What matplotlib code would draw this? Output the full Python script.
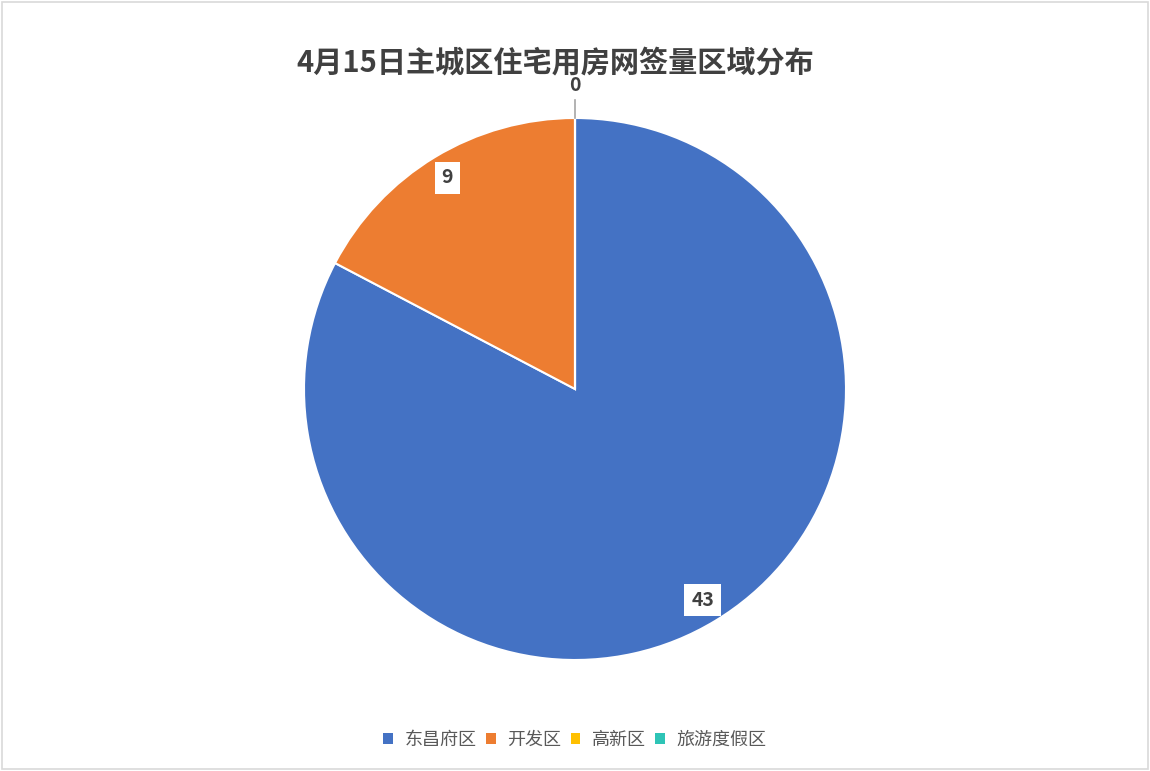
import matplotlib
matplotlib.use('Agg')
import matplotlib.pyplot as plt
from matplotlib.patches import Rectangle
import numpy as np

plt.rcParams['font.family'] = ['Noto Sans CJK SC', 'DejaVu Sans']

# data
areas = ['东昌府区', '开发区', '高新区', '旅游度假区']
counts = [43, 9, 0, 0]
colors = ['#4472C4', '#ED7D31', '#FFC000', '#2EC4B6']
title = '4月15日主城区住宅用房网签量区域分布'

fig = plt.figure(figsize=(11.5, 7.71), dpi=100)
fig.patches.append(Rectangle((0.0015, 0.002), 0.997, 0.996, transform=fig.transFigure,
                             fill=False, edgecolor='#d9d9d9', linewidth=1.2))

# pie axes: centre ~ (575, 389) px, radius ~ 271 px
ax = fig.add_axes([304/1150, (771-660)/771, 542/1150, 542/771])
wedges, _ = ax.pie(counts, colors=colors, startangle=90, counterclock=False,
                   radius=1.0, wedgeprops=dict(edgecolor='white', linewidth=1.5))
ax.set_xlim(-1, 1)
ax.set_ylim(-1, 1)
ax.set_aspect('equal')
ax.axis('off')

shown_zero = False
for w, v in zip(wedges, counts):
    mid = np.deg2rad((w.theta1 + w.theta2) / 2)
    if v > 0:
        r = 0.91
        ax.text(r*np.cos(mid), r*np.sin(mid), str(v), ha='center', va='center',
                fontsize=14, fontweight='bold', color='#404040',
                bbox=dict(boxstyle='square,pad=0.35', facecolor='white', edgecolor='none'))
    elif not shown_zero:
        shown_zero = True
        ax.plot([np.cos(mid), 1.065*np.cos(mid)], [np.sin(mid), 1.065*np.sin(mid)],
                color='#a6a6a6', linewidth=1.2, clip_on=False)
        ax.text(1.12*np.cos(mid), 1.12*np.sin(mid), str(v), ha='center', va='center',
                fontsize=14, fontweight='bold', color='#404040', clip_on=False)

fig.text(555/1150, 1 - 62/771, title, ha='center', va='center', fontsize=21,
         fontweight='bold', color='#404040')

handles = [Rectangle((0, 0), 1, 1, facecolor=c, edgecolor='none') for c in colors]
fig.legend(handles, areas, loc='center', bbox_to_anchor=(575/1150, 1 - 740/771),
           ncol=4, frameon=False, fontsize=13, labelcolor='#595959',
           handlelength=0.55, handleheight=0.55, handletextpad=0.65, columnspacing=0.5)

fig.savefig('out.png', dpi=100)
